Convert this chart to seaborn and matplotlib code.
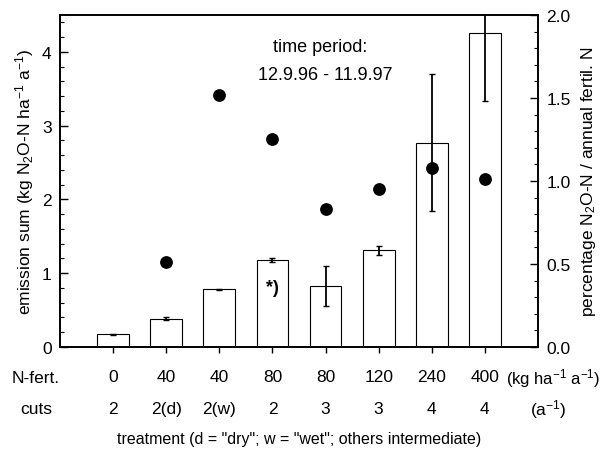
import matplotlib
matplotlib.use("Agg")
import matplotlib.pyplot as plt
import matplotlib.transforms as mtransforms
from matplotlib.ticker import MultipleLocator
import seaborn as sns
import numpy as np
import pandas as pd

# ---- data ----
n_fert = ["0", "40", "40", "80", "80", "120", "240", "400"]
cuts = ["2", "2(d)", "2(w)", "2", "3", "3", "4", "4"]
emission = [0.17, 0.38, 0.78, 1.18, 0.83, 1.31, 2.77, 4.25]
emission_err = [0.01, 0.02, 0.01, 0.03, 0.27, 0.06, 0.93, 0.92]
percentage = [np.nan, 0.51, 1.52, 1.25, 0.83, 0.95, 1.08, 1.01]

sns.set_theme(style="ticks")
plt.rcParams['font.family'] = ['Liberation Sans', 'DejaVu Sans']
plt.rcParams['mathtext.fontset'] = 'custom'
plt.rcParams['mathtext.rm'] = 'Liberation Sans'
plt.rcParams['mathtext.it'] = 'Liberation Sans:italic'
plt.rcParams['mathtext.bf'] = 'Liberation Sans:bold'
for k in ['text.color', 'axes.labelcolor', 'xtick.color', 'ytick.color', 'axes.edgecolor']:
    plt.rcParams[k] = 'black'

FS = 12.5
W, H = 606, 460
fig = plt.figure(figsize=(W / 100, H / 100), dpi=100)
ax = fig.add_axes([60 / W, 1 - 348 / H, (538 - 60) / W, (348 - 16) / H])

keys = [f"{n}|{c}|{i}" for i, (n, c) in enumerate(zip(n_fert, cuts))]
df = pd.DataFrame({"treat": keys, "emission": emission, "err": emission_err,
                   "pct": percentage})
df["pos"] = np.arange(len(df))

sns.barplot(data=df, x="treat", y="emission", order=keys, color="white",
            edgecolor="black", linewidth=0.8, width=0.6, errorbar=None,
            saturation=1, ax=ax, zorder=2)
for p in ax.patches:
    p.set_facecolor("white")
ax.errorbar(df["pos"], df["emission"], yerr=df["err"], fmt="none",
            ecolor="black", elinewidth=1.3, capsize=2.5, capthick=1.0, zorder=3)

ax.set_xlim(-1, 8)
ax.set_ylim(0, 4.5)
ax.yaxis.set_major_locator(MultipleLocator(1))
ax.yaxis.set_minor_locator(MultipleLocator(0.2))
ax.set_xticks(df["pos"])
ax.set_xticklabels(n_fert)
ax.tick_params(axis="x", direction="out", length=4, width=1, pad=12, labelsize=FS)
ax.tick_params(axis="y", which="major", direction="in", length=6, width=1, labelsize=FS, pad=6)
ax.tick_params(axis="y", which="minor", direction="in", length=3, width=0.8)
ax.set_xlabel("")
ax.set_ylabel("emission sum (kg N$_2$O-N ha$^{-1}$ a$^{-1}$)", fontsize=FS, labelpad=4)
for s in ax.spines.values():
    s.set_linewidth(1.2)
    s.set_color("black")

ax2 = ax.twinx()
sns.scatterplot(data=df, x="pos", y="pct", ax=ax2, color="black", s=85,
                edgecolor="black", linewidth=0, zorder=4)
ax2.set_ylim(0, 2.0)
ax2.set_xlim(-1, 8)
ax2.yaxis.set_major_locator(MultipleLocator(0.5))
ax2.yaxis.set_minor_locator(MultipleLocator(0.1))
ax2.yaxis.set_major_formatter(matplotlib.ticker.FormatStrFormatter("%.1f"))
ax2.tick_params(axis="y", which="major", direction="in", length=6, width=1, labelsize=FS, pad=6)
ax2.tick_params(axis="y", which="minor", direction="in", length=3, width=0.8)
ax2.set_ylabel("percentage N$_2$O-N / annual fertil. N", fontsize=FS, labelpad=6)
ax2.set_xlabel("")
for s in ax2.spines.values():
    s.set_linewidth(1.2)
    s.set_color("black")

# annotations inside
ax.text(3, 0.81, "*)", ha="center", va="center", fontsize=13, fontweight="bold")
ax.text(0.545, 0.905, "time period:", transform=ax.transAxes, ha="center",
        va="center", fontsize=13)
ax.text(0.555, 0.82, "12.9.96 - 11.9.97", transform=ax.transAxes, ha="center",
        va="center", fontsize=13)

# rows below axis
blend = mtransforms.blended_transform_factory(ax.transData, ax.transAxes)
for i, c in enumerate(cuts):
    ax.text(i, (348 - 410) / 332, c, transform=blend, ha="center", va="center",
            fontsize=FS)

def ftext(x, y, s, fs=FS, **kw):
    fig.text(x / W, 1 - y / H, s, va="center", fontsize=fs, **kw)

ftext(36, 379, "N-fert.", ha="center")
ftext(506, 379, "(kg ha$^{-1}$ a$^{-1}$)", fs=12, ha="left")
ftext(36, 410, "cuts", ha="center")
ftext(548, 410, "(a$^{-1}$)", ha="center")
ftext(299, 440, 'treatment (d = "dry"; w = "wet"; others intermediate)', fs=11.5, ha="center")

fig.savefig("out.png", dpi=100)
